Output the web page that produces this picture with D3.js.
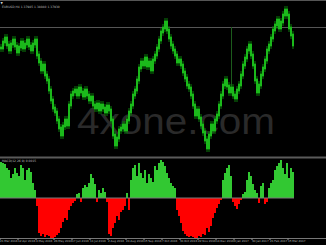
<!DOCTYPE html>
<html>
<head>
<meta charset="utf-8">
<script src="https://cdn.jsdelivr.net/npm/d3@7"></script>
<style>
  html, body { margin: 0; padding: 0; background: #000; }
  svg { display: block; }
</style>
</head>
<body>
<div id="chart"></div>
<script>
// closes of the price panel (index level)
const closes = [
  112, 118, 122, 115, 110, 116, 120, 114, 108, 113, 118, 112, 116, 120, 114, 110, 116, 120, 105, 98,
  90, 95, 85, 80, 70, 60, 52, 48, 40, 32, 25, 34, 40, 35, 55, 65, 68, 70, 65, 72, 68, 64, 70, 65,
  60, 63, 55, 52, 56, 50, 55, 52, 48, 54, 50, 40, 25, 15, 22, 30, 32, 35, 30, 40, 48, 55, 65, 70,
  80, 92, 98, 95, 102, 94, 98, 90, 100, 105, 112, 120, 128, 132, 138, 130, 122, 115, 110, 105, 98, 100,
  95, 88, 82, 75, 72, 65, 55, 45, 50, 42, 35, 28, 20, 12, 25, 35, 30, 40, 45, 55, 65, 75, 80, 74,
  68, 72, 65, 62, 70, 75, 85, 95, 102, 110, 115, 105, 95, 80, 68, 75, 85, 92, 100, 110, 115, 122,
  130, 135, 140, 132, 138, 145, 150, 145, 132, 125, 115
]

// histogram values of the lower panel
const histo = [
  36, 35, 34, 30, 28, 20, 24, 30, 25, 22, 33, 30, 18, 28, 30, 26, 15, 8, -8, -35,
  -38, -36, -39, -37, -38, -40, -40, -39, -37, -35, -30, -24, -20, -22, -12, -8, -5, -3, 4, 5,
  -4, 10, 13, 11, 15, 24, 20, 14, -4, 8, 5, 10, 6, -4, -36, -38, -30, -25, -18, -22,
  -14, -12, -8, 5, -12, 18, 30, 33, 22, 35, 25, 20, 28, 15, 24, 20, 16, 32, 28, 35,
  38, 36, 32, 25, 20, 15, 12, 10, -12, -18, -25, -33, -36, -38, -39, -38, -39, -40, -40, -38,
  -39, -36, -37, -30, -34, -28, -20, -15, -10, -6, -2, 18, 25, 30, 33, 22, -4, -8, -11, -6,
  -2, 4, 6, 18, 26, 22, 14, 8, 5, -5, 12, 15, -6, -4, 10, 15, 18, 28, 32, 35,
  38, 30, 24, 35, 20, 30, 26, 12
]

const dateLabels = [
  '21 Mar 2016', '12 Apr 2016', '4 May 2016', '26 May 2016', '17 Jun 2016', '11 Jul 2016',
  '2 Aug 2016', '24 Aug 2016', '15 Sep 2016', '7 Oct 2016', '31 Oct 2016', '22 Nov 2016',
  '14 Dec 2016', '6 Jan 2017', '30 Jan 2017', '21 Feb 2017', '15 Mar 2017'
]

const width = 326
const height = 245

const svg = d3
  .select('#chart')
  .append('svg')
  .attr('width', width)
  .attr('height', height)
  .style('background', '#000')

const n = closes.length
const x = d3
  .scaleBand()
  .domain(d3.range(n))
  .range([0, n * 2])
  .padding(0)

// price panel
const yPrice = d3.scaleLinear().domain([0, 160]).range([160, 0])

// top border + horizontal line
svg.append('line').attr('x1', 0).attr('x2', width).attr('y1', 0.5).attr('y2', 0.5)
  .attr('stroke', '#555').attr('stroke-width', 1)
svg.append('line').attr('x1', 0).attr('x2', width).attr('y1', 27.5).attr('y2', 27.5)
  .attr('stroke', '#555').attr('stroke-width', 1)

// watermark
svg.append('text')
  .attr('x', 77)
  .attr('y', 134)
  .attr('textLength', 198)
  .attr('lengthAdjust', 'spacingAndGlyphs')
  .style('font-family', 'Liberation Sans, Arial, sans-serif')
  .style('font-size', '37px')
  .style('fill', '#2a2a2a')
  .text('4xone.com')

// vertical marker line
svg.append('line').attr('x1', 231.5).attr('x2', 231.5).attr('y1', 27).attr('y2', 92)
  .attr('stroke', '#1c5c1c').attr('stroke-width', 1)

// candles: body from previous close to current close, with wicks
const prev = (d, i) => (i ? closes[i - 1] : d)
const bars = svg.append('g')
bars.selectAll('line.wick')
  .data(closes)
  .enter()
  .append('line')
  .attr('class', 'wick')
  .attr('x1', (d, i) => x(i) + 1)
  .attr('x2', (d, i) => x(i) + 1)
  .attr('y1', (d, i) => yPrice(Math.max(d, prev(d, i))) - 4)
  .attr('y2', (d, i) => yPrice(Math.min(d, prev(d, i))) + 4)
  .attr('stroke', '#0b7a0b')
  .attr('stroke-width', 1)
bars.selectAll('rect')
  .data(closes)
  .enter()
  .append('rect')
  .attr('x', (d, i) => x(i))
  .attr('width', x.bandwidth())
  .attr('y', (d, i) => yPrice(Math.max(d, prev(d, i))) - 1.5)
  .attr('height', (d, i) => Math.abs(yPrice(d) - yPrice(prev(d, i))) + 3)
  .attr('fill', '#0a960a')
bars.selectAll('line.hi')
  .data(closes)
  .enter()
  .append('line')
  .attr('class', 'hi')
  .attr('x1', (d, i) => x(i) + 1)
  .attr('x2', (d, i) => x(i) + 1)
  .attr('y1', (d, i) => yPrice(Math.max(d, prev(d, i))) - 1)
  .attr('y2', (d, i) => yPrice(Math.min(d, prev(d, i))) + 1)
  .attr('stroke', '#36f036')
  .attr('stroke-width', 0.8)

// header text
svg.append('text').attr('x', 0.5).attr('y', 3.5)
  .style('font-family', 'DejaVu Sans, sans-serif').style('font-size', '3px').style('fill', '#ccc')
  .text('▼')
svg.append('text').attr('x', 2).attr('y', 7.5)
  .style('font-family', 'DejaVu Sans, sans-serif').style('font-size', '3px').style('fill', '#bbb')
  .text('EURUSD,H4 1.37985 1.38040 1.37930')

// panel separator
svg.append('rect').attr('x', 0).attr('y', 156.5).attr('width', width).attr('height', 2)
  .attr('fill', '#5a5a5a')

// lower panel
const yHist = d3.scaleLinear().domain([-40, 40]).range([238, 158])

svg.append('g')
  .selectAll('rect')
  .data(histo)
  .enter()
  .append('rect')
  .attr('x', (d, i) => x(i))
  .attr('width', x.bandwidth())
  .attr('y', d => yHist(Math.max(0, d)))
  .attr('height', d => Math.abs(yHist(d) - yHist(0)))
  .attr('fill', d => (d >= 0 ? '#32c832' : '#ff0000'))

svg.append('line').attr('x1', 0).attr('x2', n * 2).attr('y1', yHist(0)).attr('y2', yHist(0))
  .attr('stroke', '#7a7a7a').attr('stroke-width', 1)

svg.append('text').attr('x', 2).attr('y', 162)
  .style('font-family', 'DejaVu Sans, sans-serif').style('font-size', '3px').style('fill', '#bbb')
  .text('MACD(12,26,9) 0.0015')

// time axis
const tickIdx = dateLabels.map((d, i) => i * 9)
const axis = svg.append('g')
  .attr('transform', 'translate(0,238.5)')
  .call(d3.axisBottom(x)
    .tickValues(tickIdx)
    .tickSize(1.5)
    .tickFormat((d, i) => dateLabels[i]))
axis.select('.domain').attr('stroke', '#777').attr('d', 'M0,0H' + width)
axis.selectAll('.tick line').attr('stroke', '#999').attr('transform', 'translate(-1,0)')
axis.selectAll('text')
  .style('text-anchor', 'start')
  .style('font-family', 'DejaVu Sans, sans-serif')
  .style('font-size', '2.8px')
  .attr('fill', '#bbb')
  .attr('dy', '0.9em')
  .attr('dx', '-0.4em')
  .attr('y', 0.8)
</script>
</body>
</html>
